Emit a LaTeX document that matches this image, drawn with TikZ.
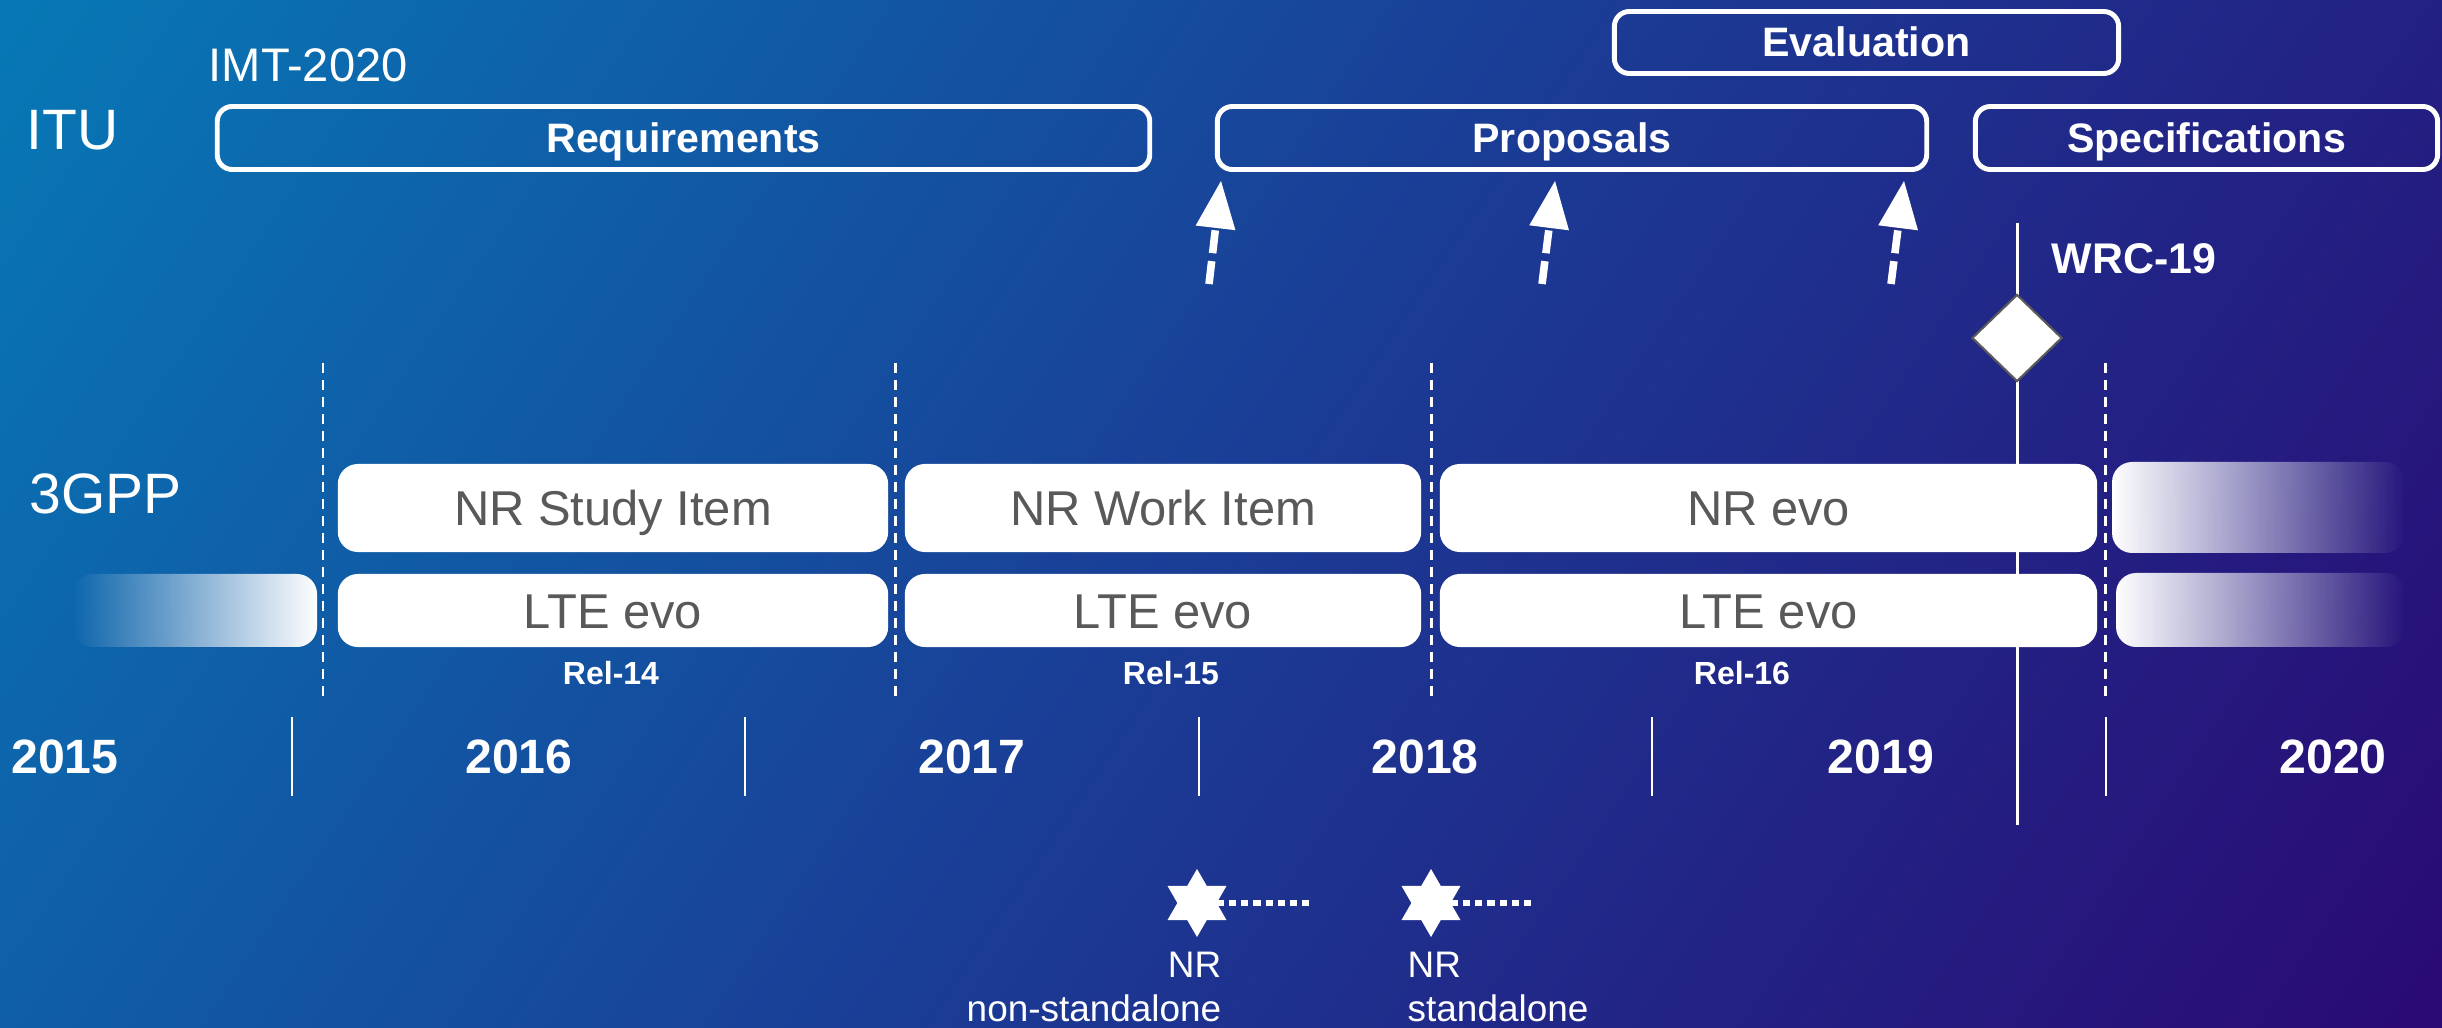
\documentclass[tikz,border=0pt]{standalone}
\usepackage{fontspec}
\setmainfont{Liberation Sans}
\usetikzlibrary{positioning,shapes.geometric,arrows,fadings}
\definecolor{bgtop}{HTML}{0778B5}
\definecolor{bgmid}{HTML}{1A3D96}
\definecolor{bgbot}{HTML}{2A0A74}
\definecolor{txtgrey}{HTML}{595959}
\definecolor{rimgrey}{HTML}{5A5A5A}
\tikzfading[name=fadein, left color=transparent!100, right color=transparent!0]
\tikzfading[name=fadeout, left color=transparent!0, right color=transparent!100]

\begin{document}
\begin{tikzpicture}[x=0.01cm, y=-0.01cm]
    \tikzstyle{itubox} = [rectangle, draw=white, rounded corners=0.15cm, line width=1.4pt, minimum height=0.63cm, inner sep=0pt, text=white, font=\bfseries\fontsize{11.7}{14}\selectfont, text height=0.29cm, text depth=0pt]
    \tikzstyle{relbox} = [rectangle, fill=white, rounded corners=0.2cm, inner sep=0pt, text=txtgrey, font=\fontsize{13.9}{16.7}\selectfont, text height=0.35cm, text depth=0pt]
    \tikzstyle{orgname} = [anchor=base west, inner sep=0pt, text=white, font=\fontsize{16.2}{19.4}\selectfont]
    \tikzstyle{relname} = [anchor=base, inner sep=0pt, text=white, font=\bfseries\fontsize{9.1}{11}\selectfont]
    \tikzstyle{yearname} = [anchor=base, inner sep=0pt, text=white, font=\bfseries\fontsize{13.7}{16.4}\selectfont]
    \tikzstyle{arr} = [-triangle 45, white, line width=2.16pt, dash pattern=on 0.23cm off 0.08cm]
    \tikzstyle{reldash} = [white, line width=0.85pt, dash pattern=on 0.1cm off 0.07cm]
    \tikzstyle{yearsep} = [white, line width=0.7pt]
    \tikzstyle{milestar} = [star, star points=6, star point ratio=1.732, minimum size=0.68cm, inner sep=0pt, fill=white]
    \tikzstyle{nrlabel} = [inner sep=0pt, text=white, font=\fontsize{10.5}{12.6}\selectfont]
    \tikzstyle{dots} = [white, line width=1.7pt, dash pattern=on 0.07cm off 0.05cm]

    % background
    \useasboundingbox (0,0) rectangle (2442,1028);
    \begin{scope}
        \clip (0,0) rectangle (2442,1028);
        \shade[left color=bgtop, right color=bgbot, middle color=bgmid, shading angle=56] (-464,-195) rectangle (2906,1223);
    \end{scope}

    % ITU
    \node[orgname] (itu) at (26,150) {ITU};
    \node[orgname, font=\fontsize{13.4}{16}\selectfont] (imt) at (208,82) {IMT-2020};
    \node[itubox, minimum width=9.32cm] (requirements) at (683.5,138) {Requirements};
    \node[itubox, minimum width=7.09cm] (proposals) at (1572,138) {Proposals};
    \node[itubox, minimum width=5.04cm, minimum height=0.62cm] (evaluation) at (1866.5,42.5) {Evaluation};
    \node[itubox, minimum width=4.62cm] (specifications) at (2206.5,138) {Specifications};

    \coordinate (p1tail) at (1209,284);
    \coordinate (p1tip) at (1221,181);
    \coordinate (p2tail) at (1542,284);
    \coordinate (p2tip) at (1555,181);
    \coordinate (p3tail) at (1891,284);
    \coordinate (p3tip) at (1904,181);
    \draw[arr] (p1tail) -- (p1tip);
    \draw[arr] (p2tail) -- (p2tip);
    \draw[arr] (p3tail) -- (p3tip);

    % release borders
    \draw[reldash] (323,363) -- (323,697);
    \draw[reldash] (895,363) -- (895,697);
    \draw[reldash] (1431,363) -- (1431,697);
    \draw[reldash] (2105,363) -- (2105,697);

    % WRC-19
    \coordinate (wrctop) at (2017,223);
    \coordinate (wrcbot) at (2017,825);
    \draw[white, line width=0.85pt] (wrctop) -- (wrcbot);
    \node[diamond, draw=rimgrey, fill=white, line width=0.6pt, minimum width=0.9cm, minimum height=0.87cm, inner sep=0pt] (wrc) at (2017,338) {};
    \node[anchor=base west, inner sep=0pt, text=white, font=\bfseries\fontsize{12.2}{14.6}\selectfont] (wrclabel) at (2051,274) {WRC-19};

    % 3GPP
    \node[orgname] (gpp) at (29,514) {3GPP};
    \node[relbox, minimum width=5.5cm, minimum height=0.88cm] (nrsi) at (613,508) {NR Study Item};
    \node[relbox, minimum width=5.16cm, minimum height=0.88cm] (nrwi) at (1163,508) {NR Work Item};
    \node[relbox, minimum width=6.57cm, minimum height=0.88cm] (nrevo) at (1768.5,508) {NR evo};
    \node[relbox, minimum width=5.5cm, minimum height=0.73cm] (lte14) at (613,610.5) {LTE evo};
    \node[relbox, minimum width=5.16cm, minimum height=0.73cm] (lte15) at (1163,610.5) {LTE evo};
    \node[relbox, minimum width=6.57cm, minimum height=0.73cm] (lte16) at (1768.5,610.5) {LTE evo};
    \fill[white, path fading=fadein, rounded corners=0.2cm] (73,574) rectangle (317,647);
    \fill[white, path fading=fadeout, rounded corners=0.2cm] (2112,462) rectangle (2405,553);
    \fill[white, path fading=fadeout, rounded corners=0.2cm] (2116,573) rectangle (2405,647);

    \node[relname] (rel14) at (611,685) {Rel-14};
    \node[relname] (rel15) at (1171,685) {Rel-15};
    \node[relname] (rel16) at (1742,685) {Rel-16};

    % years
    \draw[yearsep] (292,717) -- (292,796);
    \draw[yearsep] (745,717) -- (745,796);
    \draw[yearsep] (1199,717) -- (1199,796);
    \draw[yearsep] (1652,717) -- (1652,796);
    \draw[yearsep] (2106,717) -- (2106,796);
    \node[yearname] (y2015) at (65,774) {2015};
    \node[yearname] (y2016) at (519,774) {2016};
    \node[yearname] (y2017) at (972,774) {2017};
    \node[yearname] (y2018) at (1425,774) {2018};
    \node[yearname] (y2019) at (1881,774) {2019};
    \node[yearname] (y2020) at (2333,774) {2020};

    % NR milestones
    \node[milestar] (nsa) at (1197,903) {};
    \node[milestar] (sa) at (1431,903) {};
    \coordinate (nsadots) at (1311,903);
    \coordinate (sadots) at (1531,903);
    \draw[dots] (nsa) -- (nsadots);
    \draw[dots] (sa) -- (sadots);
    \node[nrlabel, align=right, anchor=north east] (nsalabel) at (1222,951) {NR\\non-standalone};
    \node[nrlabel, align=left, anchor=north west] (salabel) at (1407,951) {NR\\standalone};
\end{tikzpicture}
\end{document}
